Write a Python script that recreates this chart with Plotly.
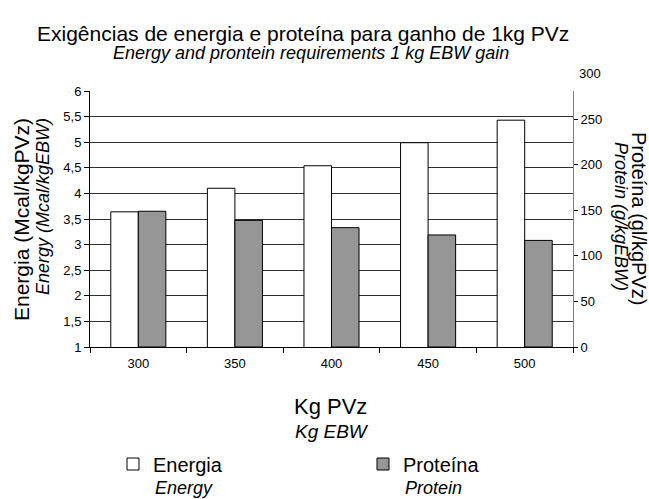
import plotly.graph_objects as go

categories = ["300", "350", "400", "450", "500"]
energia = [3.64, 4.10, 4.54, 4.99, 5.43]
proteina = [149, 139, 131, 123, 117]
left_ticks = [1, 1.5, 2, 2.5, 3, 3.5, 4, 4.5, 5, 5.5, 6]
left_ticktext = ["1", "1,5", "2", "2,5", "3", "3,5", "4", "4,5", "5", "5,5", "6"]
right_ticks = [0, 50, 100, 150, 200, 250]
right_extra_label = 300

W, H = 649, 499
L, R, T, B = 90, 76, 91, 152
PW, PH = W - L - R, H - T - B
Y2MAX = 281

def px(x):
    return (x - L) / PW

def py(y):
    return (H - B - y) / PH

FONT = "Liberation Sans, Arial, sans-serif"

fig = go.Figure()
fig.add_trace(go.Bar(x=categories, y=energia, name="Energia", offsetgroup="e",
                     marker=dict(color="white", line=dict(color="black", width=1)),
                     yaxis="y", legend="legend"))
fig.add_trace(go.Bar(x=categories, y=proteina, name="Proteína", offsetgroup="p",
                     marker=dict(color="#969696", line=dict(color="black", width=1)),
                     yaxis="y2", legend="legend2"))

legend_common = dict(orientation="h", xanchor="left", yanchor="middle",
                     font=dict(size=20, family=FONT, color="black"),
                     itemwidth=30, bgcolor="rgba(0,0,0,0)", borderwidth=0)

fig.update_layout(
    template="none",
    width=W, height=H,
    margin=dict(l=L, r=R, t=T, b=B, autoexpand=False),
    paper_bgcolor="white", plot_bgcolor="white",
    font=dict(family=FONT, color="black", size=13),
    barmode="group", bargap=0.43, bargroupgap=0,
    showlegend=True,
    legend=dict(x=px(113), y=py(464), **legend_common),
    legend2=dict(x=px(363), y=py(464), **legend_common),
    xaxis=dict(type="category", showline=True, linecolor="black", linewidth=1,
               ticks="outside", tickson="boundaries", ticklen=5, tickcolor="black",
               showgrid=False, zeroline=False, ticklabelstandoff=4,
               tickfont=dict(size=13, color="black", family=FONT)),
    yaxis=dict(range=[1, 6], tickvals=left_ticks, ticktext=left_ticktext,
               showline=True, linecolor="black", linewidth=1,
               ticks="outside", ticklen=5, tickcolor="black",
               showgrid=True, gridcolor="#303030", gridwidth=1,
               tickfont=dict(size=13, color="black", family=FONT), zeroline=False),
    yaxis2=dict(range=[0, Y2MAX], tickvals=right_ticks, overlaying="y", side="right",
                showline=True, linecolor="#808080", linewidth=1,
                ticks="outside", ticklen=4, tickcolor="black",
                showgrid=False, zeroline=False,
                tickfont=dict(size=13, color="black", family=FONT)),
)

annotations = [
    dict(text="Exigências de energia e proteína para ganho de 1kg PVz", x=px(303), y=py(33),
         font=dict(size=21)),
    dict(text="<i>Energy and prontein requirements 1 kg EBW gain</i>", x=px(311), y=py(53),
         font=dict(size=18)),
    dict(text=str(right_extra_label), x=1, y=right_extra_label / Y2MAX, xanchor="left",
         xshift=4, font=dict(size=13)),
    dict(text="Energia (Mcal/kgPVz)", x=px(21), y=py(220), textangle=-90, font=dict(size=21)),
    dict(text="<i>Energy (Mcal/kgEBW)</i>", x=px(43), y=py(207), textangle=-90, font=dict(size=18)),
    dict(text="Proteína (gl/kgPVz)", x=px(639), y=py(218), textangle=90, font=dict(size=20)),
    dict(text="<i>Protein (g/kgEBW)</i>", x=px(621), y=py(216), textangle=90, font=dict(size=18)),
    dict(text="Kg PVz", x=px(330), y=py(406), font=dict(size=22)),
    dict(text="<i>Kg EBW</i>", x=px(332), y=py(431), font=dict(size=19)),
    dict(text="<i>Energy</i>", x=px(153), y=py(488), xanchor="left", font=dict(size=18)),
    dict(text="<i>Protein</i>", x=px(403), y=py(488), xanchor="left", font=dict(size=18)),
]
for a in annotations:
    a.setdefault("xref", "paper")
    a.setdefault("yref", "paper")
    a.setdefault("showarrow", False)
    a.setdefault("xanchor", "center")
    a.setdefault("yanchor", "middle")
    a["font"].setdefault("family", FONT)
    a["font"].setdefault("color", "black")
fig.update_layout(annotations=annotations)

fig.write_html("out.html", config={"displayModeBar": False},
               post_script="document.body.style.margin='0';document.body.style.overflow='hidden';")
